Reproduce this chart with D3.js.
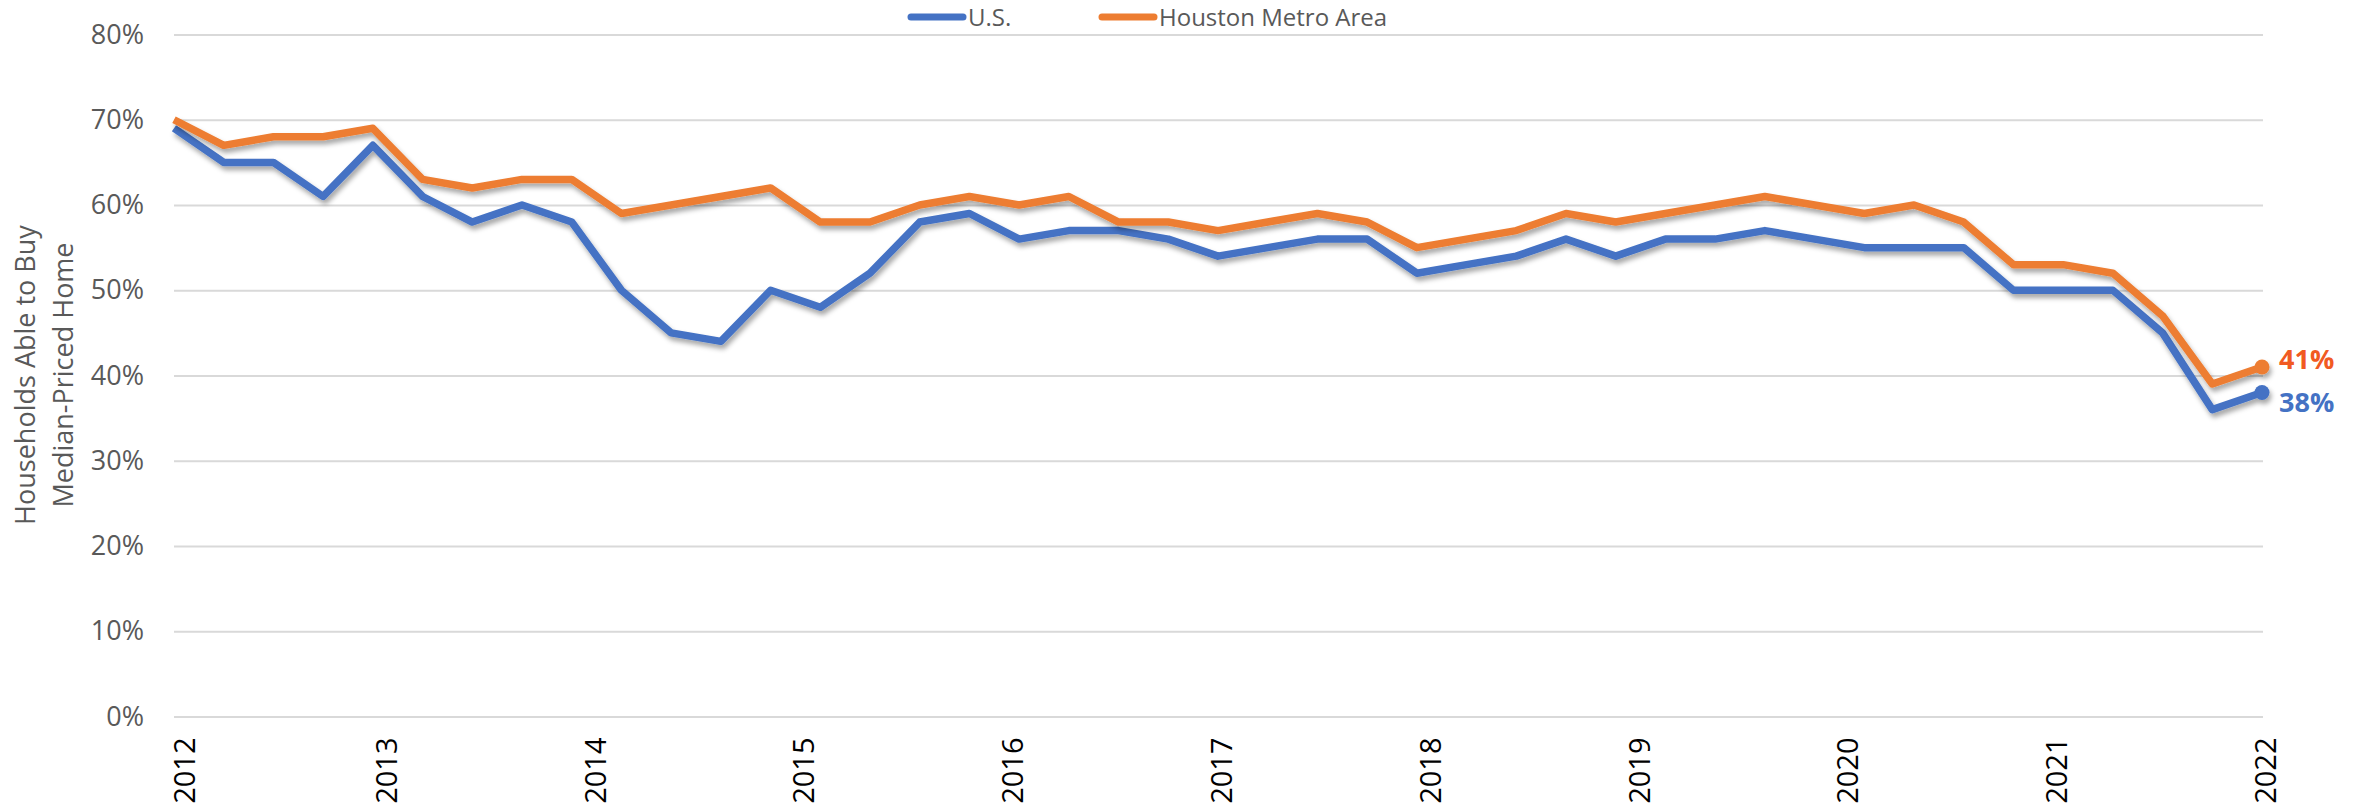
<!doctype html>
<html lang="en">
    <head>
        <meta charset="UTF-8">
        <title>Households Able to Buy Median-Priced Home</title>
        <style>
            body { margin: 0; background: #fff; }
            svg { display: block; }
        </style>
    </head>
    <body>
        <script src="https://d3js.org/d3.v7.min.js"></script>
        <script>
            // quarterly readings, 2012 to 2022
            var usValues = [69, 65, 65, 61, 67, 61, 58, 60, 58, 50, 45, 44, 50, 48, 52, 58, 59, 56, 57, 57,
                            56, 54, 55, 56, 56, 52, 53, 54, 56, 54, 56, 56, 57, 56, 55, 55, 55, 50, 50, 50,
                            45, 36, 38];
            var houstonValues = [70, 67, 68, 68, 69, 63, 62, 63, 63, 59, 60, 61, 62, 58, 58, 60, 61, 60, 61, 58,
                                 58, 57, 58, 59, 58, 55, 56, 57, 59, 58, 59, 60, 61, 60, 59, 60, 58, 53, 53, 52,
                                 47, 39, 41];
            var years = [2012, 2013, 2014, 2015, 2016, 2017, 2018, 2019, 2020, 2021, 2022];
            var yTicks = [0, 10, 20, 30, 40, 50, 60, 70, 80];
            var seriesNames = ["U.S.", "Houston Metro Area"];
            var seriesColors = ["#4472C4", "#ED7D31"];
            var labelColors = ["#4472C4", "#F15A22"];

            var width = 2366,
                height = 805,
                plotLeft = 174,
                plotRight = 2262,
                plotTop = 34.5,
                plotBottom = 716.5;

            var svg = d3.select("body").append("svg")
                .attr("width", width)
                .attr("height", height);

            var shadow = svg.append("defs").append("filter")
                .attr("id", "shadow")
                .attr("x", "-5%").attr("y", "-20%")
                .attr("width", "110%").attr("height", "140%");
            shadow.append("feDropShadow")
                .attr("dx", 2).attr("dy", 4)
                .attr("stdDeviation", 2.5)
                .attr("flood-color", "#000")
                .attr("flood-opacity", 0.35);

            var x = d3.scaleLinear()
                .domain([0, usValues.length - 1])
                .range([plotLeft, plotRight]);

            var xYear = d3.scaleLinear()
                .domain([years[0], years[years.length - 1]])
                .range([plotLeft, plotRight]);

            var y = d3.scaleLinear()
                .domain([0, 80])
                .range([plotBottom, plotTop]);

            // gridlines + y labels
            var yAxis = svg.append("g")
                .attr("transform", "translate(" + plotLeft + ",0)")
                .call(d3.axisLeft(y)
                    .tickValues(yTicks)
                    .tickSize(-(plotRight - plotLeft + 1))
                    .tickPadding(30)
                    .tickFormat(function(d) { return d + "%"; }));
            yAxis.select(".domain").remove();
            yAxis.selectAll("line")
                .attr("stroke", "#D9D9D9")
                .attr("stroke-width", 2);
            yAxis.selectAll("text")
                .attr("fill", "#595959")
                .style("font-family", "'Open Sans', sans-serif")
                .style("font-size", "27px");

            // year labels, rotated
            var xAxis = svg.append("g")
                .attr("transform", "translate(0," + plotBottom + ")")
                .call(d3.axisBottom(xYear)
                    .tickValues(years)
                    .tickSize(0)
                    .tickFormat(d3.format("d")));
            xAxis.select(".domain").remove();
            xAxis.selectAll("text")
                .attr("fill", "#000")
                .style("font-family", "'Liberation Sans Narrow', 'Open Sans', sans-serif")
                .style("font-size", "29px")
                .attr("text-anchor", "end")
                .attr("transform", "rotate(-90)")
                .attr("x", -21)
                .attr("y", function(d, i) { return i === 0 ? 10 : 3; })
                .attr("dy", "0.36em");

            // y axis title
            var title = svg.append("text")
                .attr("transform", "translate(35,375) rotate(-90)")
                .attr("text-anchor", "middle")
                .attr("fill", "#595959")
                .style("font-family", "'Open Sans', sans-serif")
                .style("font-size", "27px");
            title.append("tspan").attr("x", 0).attr("y", 0).text("Households Able to Buy");
            title.append("tspan").attr("x", 0).attr("y", 38).text("Median-Priced Home");

            var line = d3.line()
                .x(function(d, i) { return x(i); })
                .y(function(d) { return y(d); });

            var allSeries = [usValues, houstonValues];

            allSeries.forEach(function(values, s) {
                var g = svg.append("g").attr("filter", "url(#shadow)");
                g.append("path")
                    .datum(values)
                    .attr("fill", "none")
                    .attr("stroke", seriesColors[s])
                    .attr("stroke-width", 7.5)
                    .attr("stroke-linejoin", "round")
                    .attr("d", line);
                var last = values.length - 1;
                g.append("circle")
                    .attr("cx", x(last))
                    .attr("cy", y(values[last]))
                    .attr("r", 7.5)
                    .attr("fill", seriesColors[s]);
            });

            // end labels
            var labelShift = [10, -8];
            allSeries.forEach(function(values, s) {
                var last = values.length - 1;
                svg.append("text")
                    .attr("x", x(last) + 17)
                    .attr("y", y(values[last]) + labelShift[s])
                    .attr("dy", "0.36em")
                    .attr("fill", labelColors[s])
                    .style("font-family", "'Open Sans', sans-serif")
                    .style("font-weight", "bold")
                    .style("font-size", "27px")
                    .text(values[last] + "%");
            });

            // legend
            var legendX = [908, 1099];
            var legend = svg.append("g");
            seriesNames.forEach(function(name, s) {
                legend.append("line")
                    .attr("x1", legendX[s] + 3).attr("x2", legendX[s] + 55)
                    .attr("y1", 17).attr("y2", 17)
                    .attr("stroke", seriesColors[s])
                    .attr("stroke-width", 7)
                    .attr("stroke-linecap", "round");
                legend.append("text")
                    .attr("x", legendX[s] + 60)
                    .attr("y", 17)
                    .attr("dy", "0.36em")
                    .attr("fill", "#595959")
                    .style("font-family", "'Open Sans', sans-serif")
                    .style("font-size", "24px")
                    .text(name);
            });
        </script>
    </body>
</html>
